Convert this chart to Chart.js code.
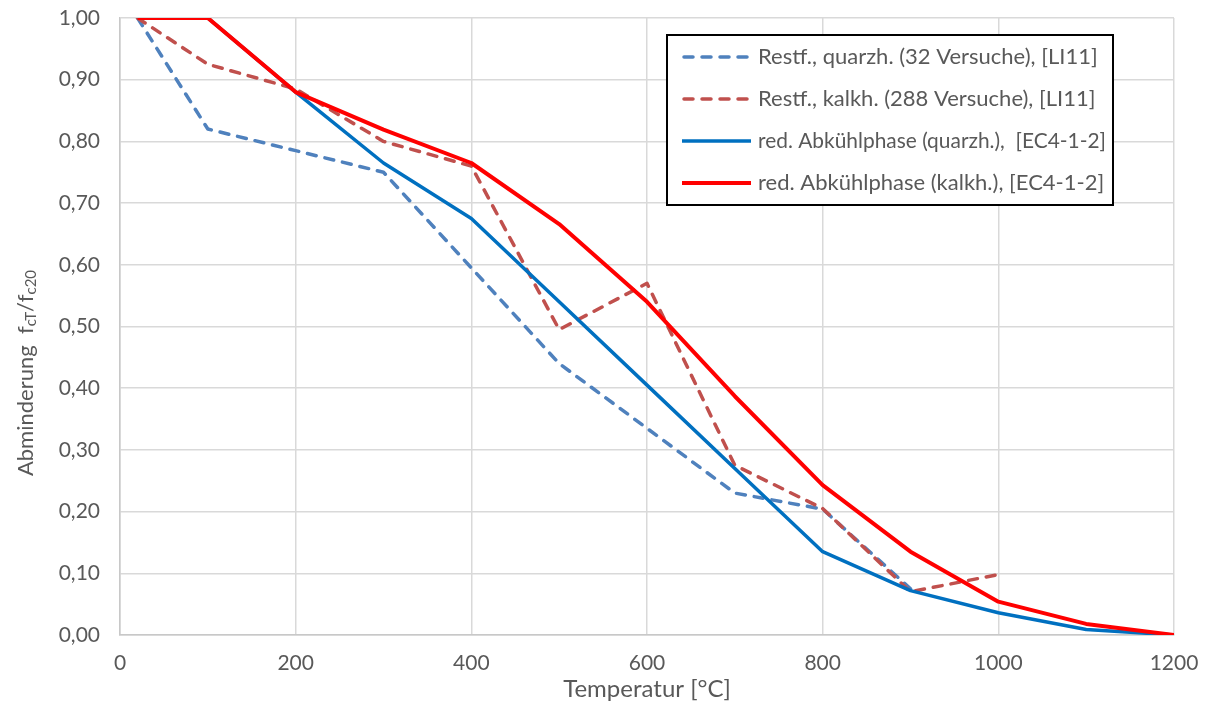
<!DOCTYPE html>
<html lang="de">
<head>
<meta charset="utf-8">
<title>Abminderung der Betondruckfestigkeit</title>
<script src="https://cdn.jsdelivr.net/npm/chart.js@4.4.1/dist/chart.umd.min.js"></script>
<style>
  html, body { margin: 0; padding: 0; background: #ffffff; }
  #wrap { position: relative; width: 1207px; height: 704px; }
</style>
</head>
<body>
<div id="wrap"><canvas id="chart"></canvas></div>
<script>
// Temperatures [°C]
const tempsRestQuarz = [20, 100, 200, 300, 400, 500, 600, 700, 800, 900];
const tempsRestKalk  = [20, 100, 200, 300, 400, 500, 600, 700, 800, 900, 1000];
const tempsEC        = [20, 100, 200, 300, 400, 500, 600, 700, 800, 900, 1000, 1100, 1200];

// Residual strength ratios f_cT / f_c20
const restQuarz = [1.00, 0.82, 0.785, 0.75, 0.595, 0.44, 0.335, 0.23, 0.204, 0.075];
const restKalk  = [1.00, 0.925, 0.885, 0.80, 0.76, 0.495, 0.57, 0.275, 0.205, 0.07, 0.098];
const ecQuarz   = [1.00, 1.00, 0.88, 0.765, 0.675, 0.54, 0.405, 0.27, 0.135, 0.072, 0.036, 0.009, 0.00];
const ecKalk    = [1.00, 1.00, 0.88, 0.819, 0.765, 0.666, 0.54, 0.387, 0.243, 0.135, 0.054, 0.018, 0.00];

// Series labels
const seriesLabels = [
  'Restf., quarzh. (32 Versuche), [LI11]',
  'Restf., kalkh. (288 Versuche), [LI11]',
  'red. Abkühlphase (quarzh.),  [EC4-1-2]',
  'red. Abkühlphase (kalkh.), [EC4-1-2]'
];

// Axis ticks
const xTicks = [0, 200, 400, 600, 800, 1000, 1200];
const yTicks = [0, 0.1, 0.2, 0.3, 0.4, 0.5, 0.6, 0.7, 0.8, 0.9, 1.0];

const xTitle = 'Temperatur [°C]';

const FONT = 'Lato, "Open Sans", sans-serif';
const TEXT = '#595959';

const toPoints = (xs, ys) => xs.map((x, i) => ({ x: x, y: ys[i] }));

const styles = [
  { color: '#4F81BD', dash: [9, 9], width: 3.5 },
  { color: '#C0504D', dash: [9, 9], width: 3.5 },
  { color: '#0070C0', dash: [],     width: 3.5 },
  { color: '#FF0000', dash: [],     width: 4 }
];

const datasets = [
  { data: toPoints(tempsRestQuarz, restQuarz), order: 4 },
  { data: toPoints(tempsRestKalk, restKalk),   order: 3 },
  { data: toPoints(tempsEC, ecQuarz),          order: 2 },
  { data: toPoints(tempsEC, ecKalk),           order: 1 }
].map((d, i) => Object.assign(d, {
  label: seriesLabels[i],
  borderColor: styles[i].color,
  backgroundColor: styles[i].color,
  borderWidth: styles[i].width,
  borderDash: styles[i].dash,
  borderCapStyle: styles[i].dash.length ? 'round' : 'butt',
  borderJoinStyle: 'round',
  pointRadius: 0,
  fill: false,
  tension: 0
}));

// Legend box inside the plot and axis titles (with subscripts)
const decorations = {
  id: 'decorations',
  afterDraw(chart) {
    const ctx = chart.ctx;
    const area = chart.chartArea;
    ctx.save();

    // x axis title
    ctx.fillStyle = TEXT;
    ctx.font = '24px ' + FONT;
    ctx.textAlign = 'center';
    ctx.textBaseline = 'middle';
    ctx.fillText(xTitle, (area.left + area.right) / 2, 689);

    // y axis title: "Abminderung  f_cT/f_c20"
    const parts = [
      { t: 'Abminderung  f', sub: false },
      { t: 'cT', sub: true },
      { t: '/f', sub: false },
      { t: 'c20', sub: true }
    ];
    const big = '22px ' + FONT, small = '15px ' + FONT;
    let total = 0;
    parts.forEach(p => { ctx.font = p.sub ? small : big; p.w = ctx.measureText(p.t).width; total += p.w; });
    ctx.translate(25, 373);
    ctx.rotate(-Math.PI / 2);
    ctx.textAlign = 'left';
    ctx.textBaseline = 'alphabetic';
    let x = -total / 2;
    parts.forEach(p => {
      ctx.font = p.sub ? small : big;
      ctx.fillText(p.t, x, p.sub ? 11 : 8);
      x += p.w;
    });
    ctx.setTransform(1, 0, 0, 1, 0, 0);

    // legend
    const box = { x: 667, y: 35, w: 446, h: 170 };
    ctx.fillStyle = '#ffffff';
    ctx.fillRect(box.x, box.y, box.w, box.h);
    ctx.strokeStyle = '#000000';
    ctx.lineWidth = 2;
    ctx.strokeRect(box.x, box.y, box.w, box.h);
    const rows = [57, 99, 141, 183];
    seriesLabels.forEach((lab, i) => {
      const s = styles[i];
      ctx.beginPath();
      ctx.strokeStyle = s.color;
      ctx.lineWidth = s.width;
      ctx.setLineDash(s.dash);
      ctx.lineCap = s.dash.length ? 'round' : 'butt';
      ctx.moveTo(s.dash.length ? 684 : 682, rows[i]);
      ctx.lineTo(751, rows[i]);
      ctx.stroke();
      ctx.setLineDash([]);
      ctx.fillStyle = TEXT;
      ctx.font = '22px ' + FONT;
      ctx.textAlign = 'left';
      ctx.textBaseline = 'middle';
      ctx.fillText(lab, 758, rows[i], 348);
    });
    ctx.restore();
  }
};

new Chart(document.getElementById('chart'), {
  type: 'line',
  data: { datasets: datasets },
  options: {
    responsive: true,
    maintainAspectRatio: false,
    animation: false,
    layout: { padding: { left: 0, right: 33, top: 18, bottom: 0 } },
    plugins: { legend: { display: false }, tooltip: { enabled: false } },
    scales: {
      x: {
        type: 'linear',
        min: 0, max: 1200,
        afterBuildTicks: s => { s.ticks = xTicks.map(v => ({ value: v })); },
        afterFit: s => { s.height = 69; s.paddingLeft = 0; s.paddingRight = 0; },
        grid: { color: '#d9d9d9', lineWidth: 1.5, drawTicks: false },
        border: { color: '#c8c8c8', width: 1.5 },
        ticks: {
          color: TEXT, font: { family: FONT, size: 21 }, padding: 16, maxRotation: 0,
          callback: v => String(v)
        }
      },
      y: {
        type: 'linear',
        min: 0, max: 1,
        afterBuildTicks: s => { s.ticks = yTicks.map(v => ({ value: v })); },
        afterFit: s => { s.width = 120; s.paddingTop = 0; s.paddingBottom = 0; },
        grid: { color: '#d9d9d9', lineWidth: 1.5, drawTicks: false },
        border: { color: '#c8c8c8', width: 1.5 },
        ticks: {
          color: TEXT, font: { family: FONT, size: 21 }, padding: 20,
          callback: v => v.toFixed(2).replace('.', ',')
        }
      }
    }
  },
  plugins: [decorations]
});
</script>
</body>
</html>
